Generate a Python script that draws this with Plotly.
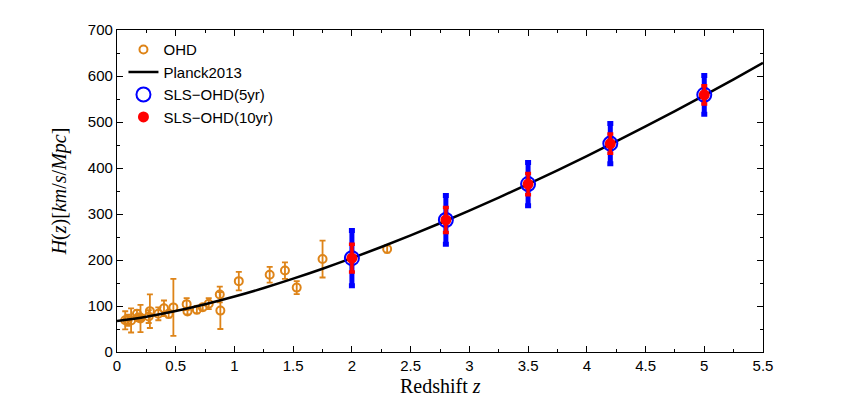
import plotly.graph_objects as go

# observational H(z) data (OHD)
ohd_z = [0.07, 0.09, 0.12, 0.17, 0.179, 0.199, 0.2, 0.27, 0.28, 0.352, 0.4, 0.44,
         0.48, 0.593, 0.6, 0.68, 0.73, 0.781, 0.875, 0.88, 1.037, 1.3, 1.43, 1.53,
         1.75, 2.3]
ohd_h = [69, 69, 68.6, 83, 75, 75, 72.9, 77, 88.8, 83, 95, 82.6,
         97, 104, 87.9, 92, 97.3, 105, 125, 90, 154, 168, 177, 140,
         202, 224]
ohd_err = [19.6, 12, 26.2, 8, 4, 5, 29.6, 14, 36.6, 14, 17, 7.8,
           62, 13, 6.1, 8, 7, 12, 17, 40, 20, 17, 18, 14,
           40, 8]

# Planck2013 curve
planck_z = [0, 0.25, 0.5, 0.75, 1.0, 1.25, 1.5, 1.75, 2.0, 2.25, 2.5, 2.75,
            3.0, 3.25, 3.5, 3.75, 4.0, 4.25, 4.5, 4.75, 5.0, 5.25, 5.5]
planck_h = [67.3, 76.7, 89.0, 103.7, 120.5, 139.1, 159.4, 181.0, 204.0, 228.2,
            253.5, 279.9, 307.3, 335.6, 364.8, 395.0, 426.0, 457.8, 490.4,
            523.8, 557.9, 592.8, 628.5]

# simulated SLS-OHD points
sls_z = [2.0, 2.8, 3.5, 4.2, 5.0]
sls_h = [204, 287, 365, 453, 559]
sls_err_5yr = [60, 53, 47, 44, 42]
sls_err_10yr = [30, 27, 23, 21, 20]

x_ticks = [0, 0.5, 1, 1.5, 2, 2.5, 3, 3.5, 4, 4.5, 5, 5.5]
x_labels = ['0', '0.5', '1', '1.5', '2', '2.5', '3', '3.5', '4', '4.5', '5', '5.5']

orange = '#DE8418'
serif = 'Liberation Serif, DejaVu Serif'

fig = go.Figure()

fig.add_trace(go.Scatter(
    x=ohd_z, y=ohd_h, mode='markers', name='OHD',
    marker=dict(symbol='circle-open', size=8, color=orange, line=dict(width=2)),
    error_y=dict(type='data', array=ohd_err, color=orange, thickness=1.8, width=3),
))

fig.add_trace(go.Scatter(
    x=planck_z, y=planck_h, mode='lines', name='Planck2013',
    line=dict(color='black', width=2.5, shape='spline'),
))

fig.add_trace(go.Scatter(
    x=sls_z, y=sls_h, mode='markers', name='SLS\u2212OHD(5yr)',
    marker=dict(symbol='circle', size=14, color='rgba(0,0,0,0)',
                line=dict(color='blue', width=2)),
    error_y=dict(type='data', array=sls_err_5yr, color='blue', thickness=5, width=3),
))

fig.add_trace(go.Scatter(
    x=sls_z, y=sls_h, mode='markers', name='SLS\u2212OHD(10yr)',
    marker=dict(symbol='circle', size=11, color='red'),
    error_y=dict(type='data', array=sls_err_10yr, color='red', thickness=3.5, width=3),
))

axis_common = dict(
    showline=True, linecolor='black', linewidth=1.2, mirror='ticks',
    ticks='inside', ticklen=6, tickcolor='black', showgrid=False, zeroline=False,
    automargin=False,
    tickfont=dict(family='Liberation Sans, Arial', size=15, color='black'),
)

fig.update_layout(
    width=843, height=397,
    plot_bgcolor='white', paper_bgcolor='white',
    margin=dict(l=109, r=88, t=22, b=53),
    showlegend=True,
    legend=dict(x=0.01, y=0.99, xanchor='left', yanchor='top',
                bgcolor='rgba(0,0,0,0)', tracegroupgap=0,
                font=dict(family='Liberation Sans, Arial', size=15, color='black')),
    xaxis=dict(range=[0, 5.5], tickmode='array', tickvals=x_ticks, ticktext=x_labels,
               tickangle=0,
               minor=dict(ticks='inside', dtick=0.25, ticklen=3, tickcolor='black'),
               **axis_common),
    yaxis=dict(range=[0, 700], dtick=100,
               minor=dict(ticks='inside', dtick=50, ticklen=3, tickcolor='black'),
               title=dict(text='<i>H</i>(<i>z</i>)[<i>km</i>/<i>s</i>/<i>Mpc</i>]',
                          font=dict(family=serif, size=20, color='black')),
               **axis_common),
)

fig.add_annotation(
    text='Redshift <i>z</i>', xref='paper', yref='paper', x=0.5, y=0,
    xanchor='center', yanchor='top', yshift=-21, showarrow=False,
    font=dict(family=serif, size=20, color='black'),
)

fig.write_html("out.html")
